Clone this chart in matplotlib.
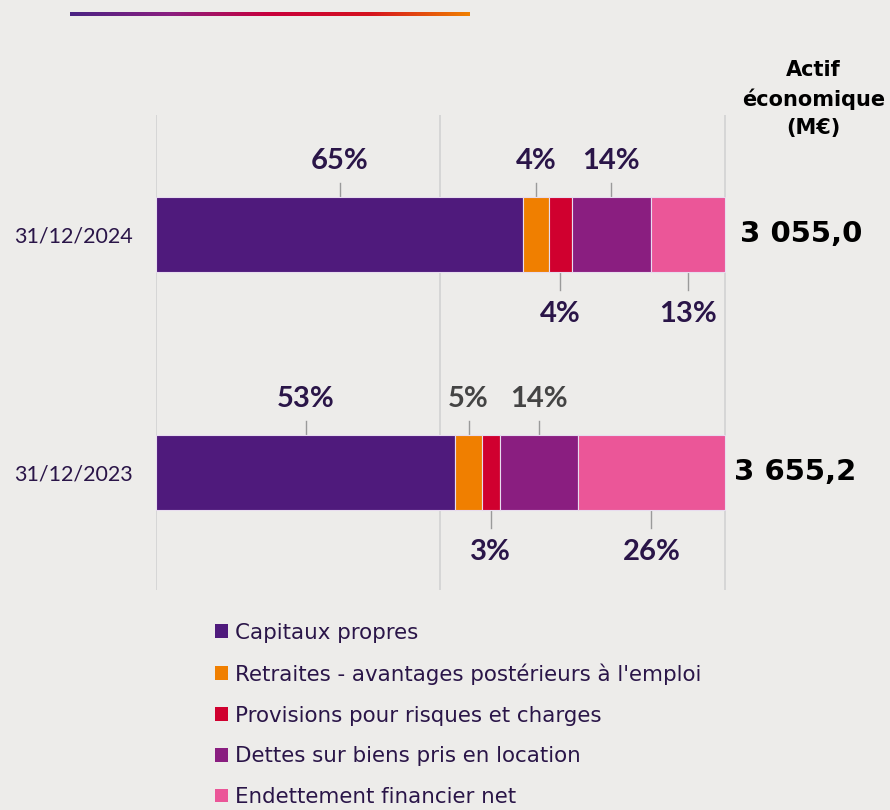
import matplotlib
matplotlib.use("Agg")
import matplotlib.pyplot as plt
from matplotlib.patches import Patch
from matplotlib.colors import LinearSegmentedColormap
import numpy as np

# data (share of economic assets, %)
dates = ["31/12/2024", "31/12/2023"]
series = ["Capitaux propres",
          "Retraites - avantages postérieurs à l'emploi",
          "Provisions pour risques et charges",
          "Dettes sur biens pris en location",
          "Endettement financier net"]
values_2024 = [64.6, 4.5, 4.0, 13.9, 13.0]
values_2023 = [52.6, 4.7, 3.1, 13.8, 25.8]
labels_2024 = ["65%", "4%", "4%", "14%", "13%"]
labels_2023 = ["53%", "5%", "3%", "14%", "26%"]
totals = ["3 055,0", "3 655,2"]
colors = ["#4f1a7c", "#f07f00", "#d0002f", "#8a1e80", "#eb5698"]
label_above = [True, True, False, True, False]

BG = "#edecea"
TXT = "#2a1548"

fig = plt.figure(figsize=(8.9, 8.1), dpi=100, facecolor=BG)
ax = fig.add_axes([156 / 890, 220 / 810, 570 / 890, 475 / 810])
ax.set_facecolor(BG)

bar_h = 75 / 238
for gx in (0, 50, 100):
    ax.axvline(gx, color="#d2d2d2", lw=1.2, zorder=0)

for row, (vals, labs) in enumerate([(values_2024, labels_2024), (values_2023, labels_2023)]):
    left = 0
    for k, v in enumerate(vals):
        ax.barh(row, v, left=left, height=bar_h, color=colors[k],
                edgecolor="#e8dcef", linewidth=0.8, zorder=2)
        cx = left + v / 2
        lab_col = TXT
        if row == 1 and k in (1, 3):
            lab_col = "#444444"
        if label_above[k]:
            y0 = row - bar_h / 2
            ax.plot([cx, cx], [y0, y0 - 0.06], color="#9a9a9a", lw=1, zorder=1)
            ax.text(cx, row - 0.31, labs[k], ha="center", va="center",
                    fontsize=21, family="Lato", weight="bold", color=lab_col)
        else:
            y0 = row + bar_h / 2
            ax.plot([cx, cx], [y0, y0 + 0.075], color="#9a9a9a", lw=1, zorder=1)
            ax.text(cx, row + 0.335, labs[k], ha="center", va="center",
                    fontsize=21, family="Lato", weight="bold", color=lab_col)
        left += v
    ax.text(113.4 - row * 1.0, row, totals[row], ha="center", va="center", fontsize=21,
            weight="bold", color="black", clip_on=False)

ax.text(115.6, -0.57, "Actif\néconomique\n(M€)", ha="center", va="center",
        fontsize=15, weight="bold", color="black", linespacing=1.5, clip_on=False)

ax.set_xlim(0, 100.2)
ax.set_ylim(1.494, -0.502)
ax.set_yticks([0, 1], dates, fontsize=15.5, family="Lato", color=TXT)
ax.tick_params(axis="y", length=0, pad=17)
ax.set_xticks([])
for s in ax.spines.values():
    s.set_visible(False)

handles = [Patch(facecolor=c, edgecolor="none") for c in colors]
leg = fig.legend(handles, series, loc="upper left", bbox_to_anchor=(206 / 890, 1 - 614 / 810),
                 frameon=False, fontsize=15.4, labelspacing=0.97, handlelength=0.62,
                 handleheight=0.62, handletextpad=0.35, borderaxespad=0)
for t in leg.get_texts():
    t.set_color(TXT)

# gradient underline of the (cropped) heading
gax = fig.add_axes([70 / 890, 1 - 16.5 / 810, 400 / 890, 5 / 810])
cmap = LinearSegmentedColormap.from_list("hdr", ["#4a2383", "#8a1e80", "#c8003c", "#d5121f", "#f08000"])
gax.imshow(np.linspace(0, 1, 256)[None, :], aspect="auto", cmap=cmap)
gax.axis("off")

fig.savefig("out.png", dpi=100, facecolor=BG)
